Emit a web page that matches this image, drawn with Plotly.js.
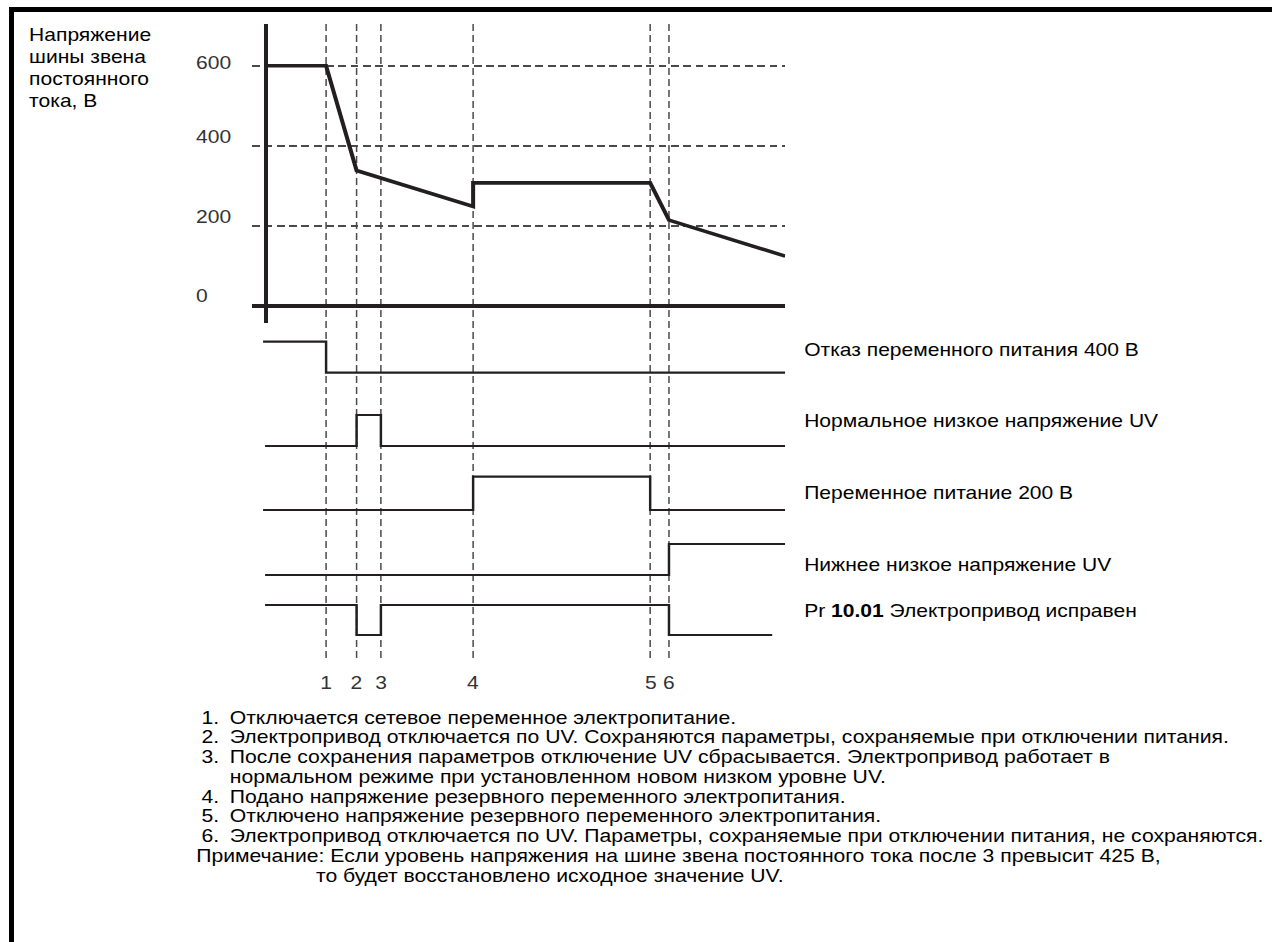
<!DOCTYPE html>
<html>
<head>
<meta charset="utf-8">
<script src="https://cdn.plot.ly/plotly-3.0.1.min.js"></script>
<style>
  html, body { margin: 0; padding: 0; background: #ffffff; overflow: hidden; }
  #chart { width: 1135.71px; height: 942px; transform: scaleX(1.12); transform-origin: 0 0; }
</style>
</head>
<body>
<div id="chart"></div>
<script>
// ---------- data ----------
const eventTimes  = [6.1, 9.15, 11.58, 20.8, 38.5, 40.38];
const eventLabels = ['1', '2', '3', '4', '5', '6'];

const busTime  = [0, 6.1, 9.15, 20.8, 20.8, 38.5, 40.38, 52.0];
const busVolts = [600, 600, 338, 248, 307, 307, 214, 124];

const voltTickVals = [600, 400, 200, 0];
const voltTickText = ['600', '400', '200', '0'];
const axisTitleLines = ['Напряжение', 'шины звена', 'постоянного', 'тока, В'];

const signalNames = [
  'Отказ переменного питания 400 В',
  'Нормальное низкое напряжение UV',
  'Переменное питание 200 В',
  'Нижнее низкое напряжение UV',
  'Pr <b>10.01</b> Электропривод исправен'
];
const acFailTime   = [-0.2, 6.1, 52.0];          const acFailState   = [1, 0, 0];
const normalUvTime = [0, 9.15, 11.58, 52.0];      const normalUvState = [0, 1, 0, 0];
const ac200Time    = [-0.2, 20.8, 38.5, 52.0];    const ac200State    = [0, 1, 0, 0];
const lowerUvTime  = [0, 40.38, 52.0];            const lowerUvState  = [0, 1, 1];
const healthyTime  = [0, 9.15, 11.58, 40.38, 50.7]; const healthyState = [1, 0, 1, 0, 0];

const noteNumbers = ['1.', '2.', '3.', '', '4.', '5.', '6.'];
const noteTexts = [
  'Отключается сетевое переменное электропитание.',
  'Электропривод отключается по UV. Сохраняются параметры, сохраняемые при отключении питания.',
  'После сохранения параметров отключение UV сбрасывается. Электропривод работает в',
  'нормальном режиме при установленном новом низком уровне UV.',
  'Подано напряжение резервного переменного электропитания.',
  'Отключено напряжение резервного переменного электропитания.',
  'Электропривод отключается по UV. Параметры, сохраняемые при отключении питания, не сохраняются.'
];
const remarkLines = [
  'Примечание: Если уровень напряжения на шине звена постоянного тока после 3 превысит 425 В,',
  'то будет восстановлено исходное значение UV.'
];

// ---------- layout helpers (screen pixels -> paper) ----------
const K = 1.12;           // horizontal stretch of the page
const W = 1272, H = 942;
const px = x => x / W;
const py = y => 1 - y / H;
const FONT = '"Liberation Sans", Arial, sans-serif';
const INK = '#231f20';
const DASH = '#4a4a4a';

const signals = [
  [acFailTime, acFailState],
  [normalUvTime, normalUvState],
  [ac200Time, ac200State],
  [lowerUvTime, lowerUvState],
  [healthyTime, healthyState]
];
const rowLow  = [372.7, 446, 510, 575, 635];
const rowHigh = [341.7, 415, 476.7, 544, 605];
const rowLabelY = [349, 420, 492, 564, 610];

const traces = [{
  x: busTime, y: busVolts, xaxis: 'x', yaxis: 'y',
  mode: 'lines', line: { color: INK, width: 3.6 }, hoverinfo: 'skip'
}];

const layout = {
  width: W / K, height: H,
  margin: { l: 0, r: 0, t: 0, b: 0 },
  paper_bgcolor: '#ffffff', plot_bgcolor: 'rgba(0,0,0,0)',
  showlegend: false,
  font: { family: FONT, color: '#000' },
  xaxis: {
    domain: [px(252), px(785)], range: [-1.3, 52.0],
    visible: false, fixedrange: true
  },
  yaxis: {
    domain: [py(323), py(24)], range: [-43.25, 704.25],
    anchor: 'free', position: px(265),
    showline: true, linewidth: 4 / K, linecolor: INK,
    tickvals: voltTickVals, showticklabels: false, ticks: '',
    showgrid: true, gridcolor: DASH, gridwidth: 1.6, griddash: '7px,4px',
    zeroline: true, zerolinecolor: INK, zerolinewidth: 4,
    fixedrange: true
  },
  shapes: [],
  annotations: []
};

signals.forEach((s, i) => {
  const ax = 'y' + (i + 2);
  const A = rowLow[i] - rowHigh[i];
  layout['yaxis' + (i + 2)] = {
    domain: [py(rowLow[i] + 0.3 * A), py(rowHigh[i] - 0.3 * A)],
    range: [-0.3, 1.3], anchor: 'x', visible: false, fixedrange: true
  };
  traces.push({
    x: s[0], y: s[1], xaxis: 'x', yaxis: ax,
    mode: 'lines', line: { color: INK, width: 2.2, shape: 'hv' }, hoverinfo: 'skip'
  });
  layout.annotations.push({
    text: signalNames[i], xref: 'paper', yref: 'paper',
    x: px(802), y: py(rowLabelY[i]), xanchor: 'left', yanchor: 'middle',
    showarrow: false, font: { family: FONT, size: 18.8, color: '#000' }
  });
});

// event marker lines and numbers
eventTimes.forEach((t, i) => {
  layout.shapes.push({
    type: 'line', xref: 'x', yref: 'paper', x0: t, x1: t,
    y0: py(658), y1: py(23), layer: 'below',
    line: { color: DASH, width: 1.5 / K, dash: '7px,4px' }
  });
  layout.annotations.push({
    text: eventLabels[i], xref: 'x', yref: 'paper', x: t, y: py(682),
    xanchor: 'center', yanchor: 'middle', showarrow: false,
    font: { family: FONT, size: 18.8, color: '#333' }
  });
});

// frame
layout.shapes.push({
  type: 'line', xref: 'paper', yref: 'paper', x0: px(9), x1: 1, y0: py(9.5), y1: py(9.5),
  line: { color: '#000', width: 5 }
});
layout.shapes.push({
  type: 'line', xref: 'paper', yref: 'paper', x0: px(11.5), x1: px(11.5), y0: 0, y1: py(7),
  line: { color: '#000', width: 5 / K }
});

// voltage tick labels
const tickLift = [3, 9, 9, 10];
voltTickVals.forEach((v, i) => {
  layout.annotations.push({
    text: voltTickText[i], xref: 'paper', yref: 'y', x: px(194), y: v,
    xanchor: 'left', yanchor: 'middle', yshift: tickLift[i], showarrow: false,
    font: { family: FONT, size: 18.8, color: '#333' }
  });
});

// axis title
axisTitleLines.forEach((s, i) => {
  layout.annotations.push({
    text: s, xref: 'paper', yref: 'paper', x: px(27), y: py(35 + 21.7 * i),
    xanchor: 'left', yanchor: 'middle', showarrow: false,
    font: { family: FONT, size: 18.8, color: '#000' }
  });
});

// notes
const NOTE_SIZE = 18.9;
const noteY0 = 717, noteStep = 19.75;
noteTexts.forEach((s, i) => {
  const y = py(noteY0 + noteStep * i);
  if (noteNumbers[i]) {
    layout.annotations.push({
      text: noteNumbers[i], xref: 'paper', yref: 'paper', x: px(199), y: y,
      xanchor: 'left', yanchor: 'middle', showarrow: false,
      font: { family: FONT, size: NOTE_SIZE, color: '#000' }
    });
  }
  layout.annotations.push({
    text: s, xref: 'paper', yref: 'paper', x: px(227), y: y,
    xanchor: 'left', yanchor: 'middle', showarrow: false,
    font: { family: FONT, size: NOTE_SIZE, color: '#000' }
  });
});
const remarkX = [194, 314];
remarkLines.forEach((s, i) => {
  layout.annotations.push({
    text: s, xref: 'paper', yref: 'paper', x: px(remarkX[i]),
    y: py(noteY0 + noteStep * (noteTexts.length + i)),
    xanchor: 'left', yanchor: 'middle', showarrow: false,
    font: { family: FONT, size: NOTE_SIZE, color: '#000' }
  });
});

Plotly.newPlot('chart', traces, layout, { staticPlot: true, displayModeBar: false });
</script>
</body>
</html>
